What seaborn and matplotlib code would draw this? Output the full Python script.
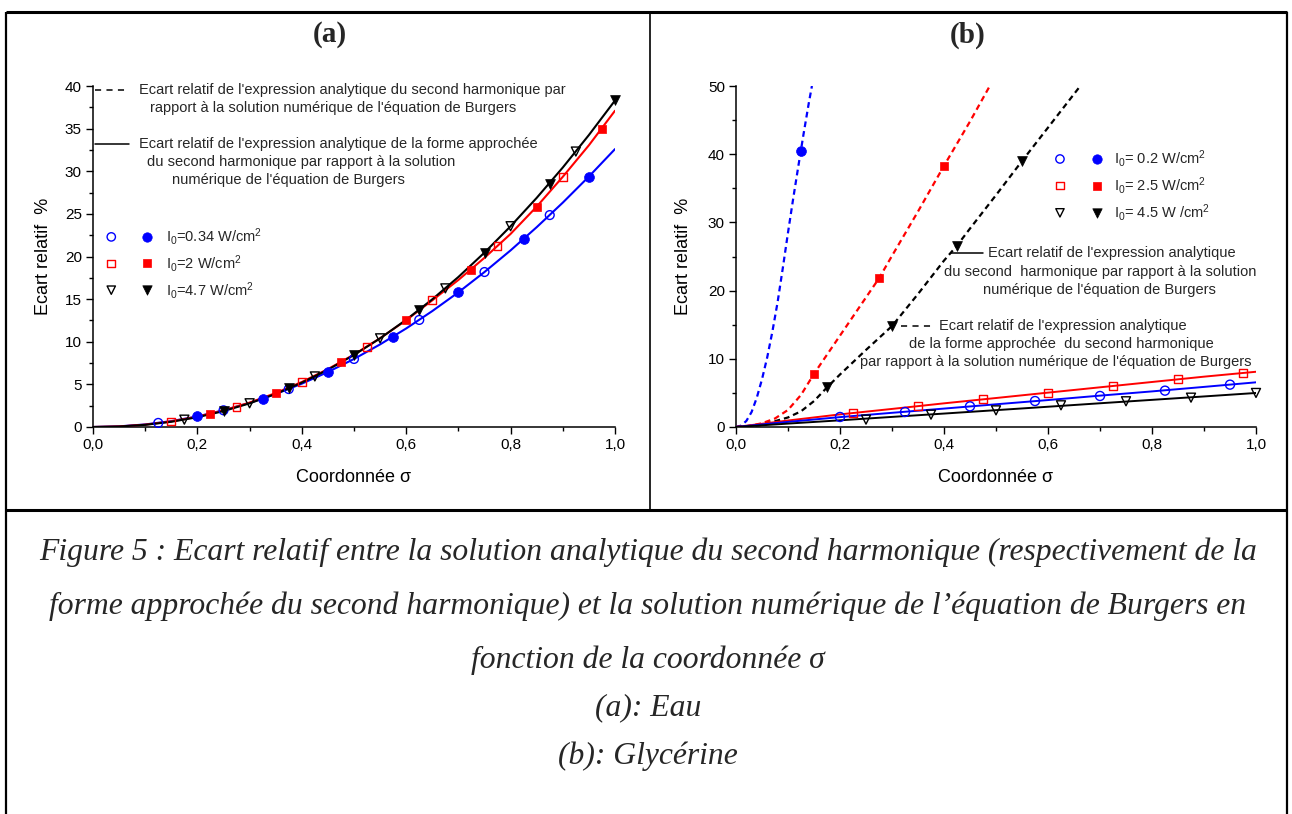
import numpy as np
import pandas as pd
import matplotlib
matplotlib.use("Agg")
import matplotlib.pyplot as plt
import seaborn as sns
from matplotlib.lines import Line2D
from matplotlib.ticker import MultipleLocator, FuncFormatter

# ------------------------------------------------------------------
# Panel (a) : Eau
# ------------------------------------------------------------------
sigma_a = [0.0, 0.05, 0.1, 0.15, 0.2, 0.25, 0.3, 0.35, 0.4, 0.45, 0.5,
           0.55, 0.6, 0.65, 0.7, 0.75, 0.8, 0.85, 0.9, 0.95, 1.0]
blue_curve_a = [0.0, 0.075, 0.30, 0.69, 1.24, 1.96, 2.83, 3.87, 5.08, 6.45, 7.98,
                9.69, 11.56, 13.60, 15.80, 18.18, 20.72, 23.44, 26.32, 29.38, 32.60]
red_curve_a = [0.0, 0.063, 0.276, 0.654, 1.21, 1.94, 2.86, 3.98, 5.28, 6.79, 8.50,
               10.41, 12.53, 14.86, 17.25, 19.85, 22.65, 25.85, 29.35, 33.05, 37.10]
black_curve_a = [0.0, 0.056, 0.253, 0.613, 1.147, 1.865, 2.775, 3.88, 5.20, 6.72, 8.45,
                 10.40, 12.58, 14.98, 17.60, 20.46, 23.55, 26.88, 30.44, 34.25, 38.30]

blue_open_x_a = [0.125, 0.25, 0.375, 0.5, 0.625, 0.75, 0.875]
blue_open_y_a = [0.48, 1.96, 4.45, 7.98, 12.56, 18.18, 24.86]
blue_fill_x_a = [0.2, 0.325, 0.45, 0.575, 0.7, 0.825, 0.95]
blue_fill_y_a = [1.24, 3.33, 6.45, 10.6, 15.8, 22.06, 29.38]
red_open_x_a = [0.15, 0.275, 0.4, 0.525, 0.65, 0.775, 0.9]
red_open_y_a = [0.65, 2.38, 5.28, 9.43, 14.86, 21.2, 29.3]
red_fill_x_a = [0.225, 0.35, 0.475, 0.6, 0.725, 0.85, 0.975]
red_fill_y_a = [1.55, 3.98, 7.62, 12.53, 18.4, 25.8, 35.0]
black_open_x_a = [0.175, 0.3, 0.425, 0.55, 0.675, 0.8, 0.925]
black_open_y_a = [0.86, 2.78, 5.93, 10.40, 16.26, 23.55, 32.31]
black_fill_x_a = [0.25, 0.375, 0.5, 0.625, 0.75, 0.875, 1.0]
black_fill_y_a = [1.87, 4.55, 8.45, 13.75, 20.46, 28.55, 38.3]

labels_a = ["I$_0$=0.34 W/cm$^2$", "I$_0$=2 W/cm$^2$", "I$_0$=4.7 W/cm$^2$"]

# ------------------------------------------------------------------
# Panel (b) : Glycerine
# ------------------------------------------------------------------
sigma_line_b = [0.0, 0.1, 0.2, 0.3, 0.4, 0.5, 0.6, 0.7, 0.8, 0.9, 1.0]
blue_line_b = [0.0, 0.75, 1.45, 2.08, 2.70, 3.33, 3.95, 4.60, 5.22, 5.88, 6.55]
red_line_b = [0.0, 0.95, 1.85, 2.65, 3.47, 4.25, 5.04, 5.82, 6.60, 7.38, 8.10]
black_line_b = [0.0, 0.50, 0.98, 1.48, 1.97, 2.47, 2.97, 3.48, 3.98, 4.48, 4.99]

blue_dash_x_b = [0.0, 0.01, 0.02, 0.03, 0.04, 0.05, 0.06, 0.07, 0.08, 0.09,
                 0.10, 0.11, 0.12, 0.13, 0.14, 0.146]
blue_dash_y_b = [0.0, 0.2, 0.9, 2.2, 4.3, 7.0, 10.2, 14.0, 18.3, 23.3,
                 28.5, 33.5, 38.3, 43.0, 47.5, 50.0]
red_dash_x_b = [0.0, 0.025, 0.05, 0.075, 0.1, 0.125, 0.15, 0.175, 0.2, 0.25,
                0.275, 0.3, 0.35, 0.4, 0.45, 0.488]
red_dash_y_b = [0.0, 0.15, 0.55, 1.25, 2.5, 4.7, 7.8, 10.6, 13.4, 19.0,
                21.8, 25.1, 31.6, 38.3, 44.8, 50.0]
black_dash_x_b = [0.0, 0.05, 0.1, 0.125, 0.15, 0.175, 0.2, 0.25, 0.3, 0.35,
                  0.4, 0.425, 0.45, 0.5, 0.55, 0.6, 0.66]
black_dash_y_b = [0.0, 0.3, 1.4, 2.3, 3.8, 5.8, 7.7, 11.3, 14.8, 19.5,
                  24.4, 26.6, 29.1, 34.0, 39.0, 43.9, 49.8]

blue_open_x_b = [0.2, 0.325, 0.45, 0.575, 0.7, 0.825, 0.95]
blue_open_y_b = [1.47, 2.20, 3.03, 3.81, 4.55, 5.33, 6.21]
red_open_x_b = [0.225, 0.35, 0.475, 0.6, 0.725, 0.85, 0.975]
red_open_y_b = [2.05, 3.08, 4.06, 5.04, 6.01, 6.99, 7.92]
black_open_x_b = [0.25, 0.375, 0.5, 0.625, 0.75, 0.875, 1.0]
black_open_y_b = [1.08, 1.81, 2.44, 3.18, 3.77, 4.30, 4.99]
blue_fill_x_b = [0.125]
blue_fill_y_b = [40.5]
red_fill_x_b = [0.15, 0.275, 0.4]
red_fill_y_b = [7.8, 21.8, 38.3]
black_fill_x_b = [0.175, 0.3, 0.425, 0.55]
black_fill_y_b = [5.8, 14.8, 26.6, 39.0]

labels_b = ["I$_0$= 0.2 W/cm$^2$", "I$_0$= 2.5 W/cm$^2$", "I$_0$= 4.5 W /cm$^2$"]

caption_lines = [
    "Figure 5 : Ecart relatif entre la solution analytique du second harmonique (respectivement de la",
    "forme approchée du second harmonique) et la solution numérique de l’équation de Burgers en",
    "fonction de la coordonnée σ",
    "(a): Eau",
    "(b): Glycérine",
]

# ------------------------------------------------------------------
sns.set_theme(style="ticks")
plt.rcParams["font.family"] = ["Liberation Sans", "DejaVu Sans"]
plt.rcParams["mathtext.fontset"] = "custom"
plt.rcParams["mathtext.rm"] = "Liberation Sans"
plt.rcParams["mathtext.it"] = "Liberation Sans:italic"
plt.rcParams["mathtext.default"] = "regular"

BLUE = "#0000FF"
RED = "#FF0000"
BLACK = "#000000"

W, H = 1292, 814
fig = plt.figure(figsize=(W / 100, H / 100), dpi=100)
fig.patch.set_facecolor("white")

ax_a = fig.add_axes([93 / W, 1 - 427 / H, 522 / W, 341 / H])
ax_b = fig.add_axes([736 / W, 1 - 427 / H, 520 / W, 341 / H])

comma = FuncFormatter(lambda v, p: f"{v:.1f}".replace(".", ","))


def style_axes(ax, ymax, ymaj, ymin):
    ax.set_facecolor("white")
    ax.set_xlim(0, 1.0)
    ax.set_ylim(0, ymax)
    ax.xaxis.set_major_locator(MultipleLocator(0.2))
    ax.xaxis.set_minor_locator(MultipleLocator(0.1))
    ax.yaxis.set_major_locator(MultipleLocator(ymaj))
    ax.yaxis.set_minor_locator(MultipleLocator(ymin))
    ax.xaxis.set_major_formatter(comma)
    ax.yaxis.set_major_formatter(FuncFormatter(lambda v, p: f"{v:.0f}"))
    sns.despine(ax=ax)
    for s in ("left", "bottom"):
        ax.spines[s].set_linewidth(1.1)
        ax.spines[s].set_color("black")
    ax.tick_params(which="major", direction="out", length=5, width=1.0,
                   labelsize=11, pad=3, colors="black")
    ax.tick_params(which="minor", direction="out", length=3, width=1.0, colors="black")
    ax.set_xlabel("Coordonnée σ", fontsize=13, color="black")
    ax.set_ylabel("Ecart relatif  %", fontsize=13, color="black")
    ax.grid(False)


def line(ax, x, y, color, ls="-", lw=1.4):
    df = pd.DataFrame({"x": x, "y": y})
    sns.lineplot(data=df, x="x", y="y", ax=ax, color=color, lw=lw, linestyle=ls,
                 sort=False, estimator=None, zorder=3, legend=False)


def pts(ax, x, y, color, marker, filled, s):
    df = pd.DataFrame({"x": x, "y": y})
    if filled:
        sns.scatterplot(data=df, x="x", y="y", ax=ax, marker=marker, s=s,
                        color=color, edgecolor=color, linewidth=0.5,
                        zorder=5, clip_on=False, legend=False)
    else:
        sns.scatterplot(data=df, x="x", y="y", ax=ax, marker=marker, s=s,
                        color=color, facecolor="none", edgecolor=color, linewidth=1.0,
                        zorder=5, clip_on=False, legend=False)


# ---------------- Panel (a) ----------------
ax = ax_a
line(ax, sigma_a, blue_curve_a, BLUE, "-", 1.5)
line(ax, sigma_a, red_curve_a, RED, "-", 1.5)
line(ax, sigma_a, black_curve_a, BLACK, "-", 1.5)
pts(ax, blue_open_x_a, blue_open_y_a, BLUE, "o", False, 40)
pts(ax, blue_fill_x_a, blue_fill_y_a, BLUE, "o", True, 50)
pts(ax, red_open_x_a, red_open_y_a, RED, "s", False, 32)
pts(ax, red_fill_x_a, red_fill_y_a, RED, "s", True, 38)
pts(ax, black_open_x_a, black_open_y_a, BLACK, "v", False, 42)
pts(ax, black_fill_x_a, black_fill_y_a, BLACK, "v", True, 50)
style_axes(ax, 40, 5, 2.5)

stub_dash = (0, (4, 3.5))

# annotation (a)
line(ax, [0.004, 0.062], [39.5, 39.5], BLACK, stub_dash, 1.1)
ax.text(0.089, 39.5, "Ecart relatif de l'expression analytique du second harmonique par",
        fontsize=10.5, va="center", ha="left")
ax.text(0.110, 37.4, "rapport à la solution numérique de l'équation de Burgers",
        fontsize=10.5, va="center", ha="left")
line(ax, [0.004, 0.069], [33.2, 33.2], BLACK, "-", 1.1)
ax.text(0.089, 33.2, "Ecart relatif de l'expression analytique de la forme approchée",
        fontsize=10.5, va="center", ha="left")
ax.text(0.104, 31.1, "du second harmonique par rapport à la solution",
        fontsize=10.5, va="center", ha="left")
ax.text(0.151, 29.0, "numérique de l'équation de Burgers",
        fontsize=10.5, va="center", ha="left")

# legend (a)
leg_y_a = [22.3, 19.2, 16.05]
for yy, col, mk, lab in zip(leg_y_a, [BLUE, RED, BLACK], ["o", "s", "v"], labels_a):
    pts(ax, [0.035], [yy], col, mk, False, 36 if mk != "s" else 30)
    pts(ax, [0.103], [yy], col, mk, True, 46 if mk != "s" else 36)
    ax.text(0.140, yy, lab, fontsize=10.5, va="center", ha="left")

# ---------------- Panel (b) ----------------
ax = ax_b
dash = (0, (2.6, 1.8))
line(ax, blue_dash_x_b, blue_dash_y_b, BLUE, dash, 1.6)
line(ax, red_dash_x_b, red_dash_y_b, RED, dash, 1.6)
line(ax, black_dash_x_b, black_dash_y_b, BLACK, dash, 1.6)
line(ax, sigma_line_b, red_line_b, RED, "-", 1.4)
line(ax, sigma_line_b, blue_line_b, BLUE, "-", 1.4)
line(ax, sigma_line_b, black_line_b, BLACK, "-", 1.4)
pts(ax, blue_open_x_b, blue_open_y_b, BLUE, "o", False, 42)
pts(ax, red_open_x_b, red_open_y_b, RED, "s", False, 34)
pts(ax, black_open_x_b, black_open_y_b, BLACK, "v", False, 42)
pts(ax, blue_fill_x_b, blue_fill_y_b, BLUE, "o", True, 50)
pts(ax, red_fill_x_b, red_fill_y_b, RED, "s", True, 40)
pts(ax, black_fill_x_b, black_fill_y_b, BLACK, "v", True, 50)
style_axes(ax, 50, 10, 5)

# annotations (b)
line(ax, [0.414, 0.475], [25.5, 25.5], BLACK, "-", 1.1)
ax.text(0.484, 25.5, "Ecart relatif de l'expression analytique",
        fontsize=10.5, va="center", ha="left")
ax.text(0.400, 22.8, "du second  harmonique par rapport à la solution",
        fontsize=10.5, va="center", ha="left")
ax.text(0.475, 20.1, "numérique de l'équation de Burgers",
        fontsize=10.5, va="center", ha="left")
line(ax, [0.318, 0.376], [14.8, 14.8], BLACK, stub_dash, 1.1)
ax.text(0.390, 14.8, "Ecart relatif de l'expression analytique",
        fontsize=10.5, va="center", ha="left")
ax.text(0.333, 12.2, "de la forme approchée  du second harmonique",
        fontsize=10.5, va="center", ha="left")
ax.text(0.238, 9.6, "par rapport à la solution numérique de l'équation de Burgers",
        fontsize=10.5, va="center", ha="left")

# legend (b)
leg_y_b = [39.3, 35.4, 31.4]
for yy, col, mk, lab in zip(leg_y_b, [BLUE, RED, BLACK], ["o", "s", "v"], labels_b):
    pts(ax, [0.623], [yy], col, mk, False, 36 if mk != "s" else 30)
    pts(ax, [0.695], [yy], col, mk, True, 46 if mk != "s" else 36)
    ax.text(0.726, yy, lab, fontsize=10.5, va="center", ha="left")

# label positions
ax_a.yaxis.set_label_coords(-0.0785, 0.5)
ax_b.yaxis.set_label_coords(-0.0846, 0.5)
ax_a.xaxis.set_label_coords(0.5, -0.122)
ax_b.xaxis.set_label_coords(0.5, -0.122)

# ---------------- titles ----------------
fig.text(330 / W, 1 - 35 / H, "(a)", fontsize=21, fontweight="bold",
         family=["Liberation Serif", "DejaVu Serif"], ha="center", va="center")
fig.text(968 / W, 1 - 35 / H, "(b)", fontsize=21, fontweight="bold",
         family=["Liberation Serif", "DejaVu Serif"], ha="center", va="center")

# ---------------- caption ----------------
cap_y = [552, 606, 660, 708, 756]
for yy, txt in zip(cap_y, caption_lines):
    fig.text(648 / W, 1 - yy / H, txt, fontsize=22.8, style="italic",
             family=["Liberation Serif", "DejaVu Serif"], ha="center", va="center")

# ---------------- table borders ----------------
xl, xr, xm = 6 / W, 1287 / W, 650 / W
yt, ym = 1 - 12 / H, 1 - 510 / H
for (xs, ys, lw) in [([xl, xr], [yt, yt], 2.2),
                     ([xl, xl], [0, yt], 1.6),
                     ([xr, xr], [0, yt], 1.6),
                     ([xm, xm], [ym, yt], 1.2),
                     ([xl, xr], [ym, ym], 2.2)]:
    fig.add_artist(Line2D(xs, ys, transform=fig.transFigure, color="black",
                          lw=lw, solid_capstyle="butt"))

fig.savefig("out.png", dpi=100, facecolor="white")
